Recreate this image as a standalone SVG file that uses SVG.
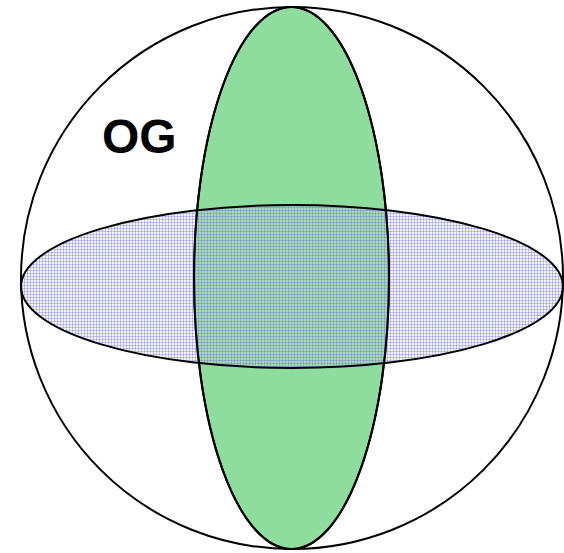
<svg xmlns="http://www.w3.org/2000/svg" width="564" height="553" viewBox="0 0 564 553">
<defs>
<pattern id="grid" width="3" height="3" patternUnits="userSpaceOnUse">
<rect width="3" height="3" fill="#d4d4f4" fill-opacity="0.3"/>
<path d="M0 0.5H3M0.5 0V3" stroke="#6464c8" stroke-opacity="0.32" stroke-width="1" fill="none"/>
</pattern>
<style>
.o{stroke:#000;stroke-width:2;}
</style>
</defs>
<g id="sphere"><circle class="o" cx="292" cy="278" r="271" fill="#fff"/></g>
<g id="vertical"><ellipse class="o" cx="291.5" cy="278" rx="97.5" ry="271" fill="#8fdc9f"/></g>
<g id="horizontal"><ellipse class="o" cx="292" cy="286.5" rx="271" ry="81.5" fill="url(#grid)"/></g>
<g id="vertical-outline"><ellipse cx="291.5" cy="278" rx="97.5" ry="271" fill="none" stroke="#000" stroke-width="2"/></g>
<text x="102" y="153" font-family="Liberation Sans, Arial, sans-serif" font-weight="bold" font-size="48">OG</text>
</svg>
